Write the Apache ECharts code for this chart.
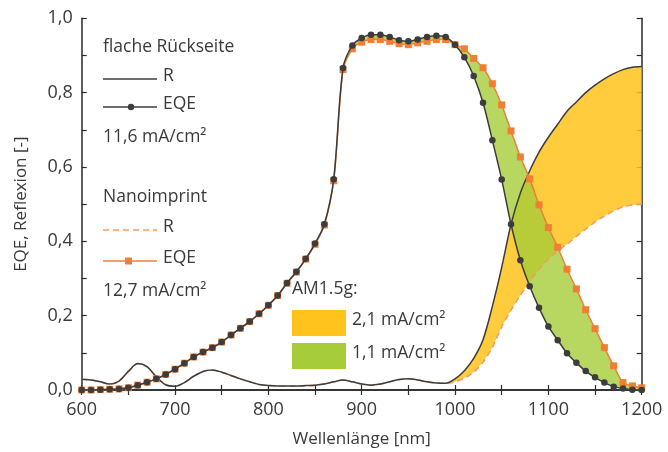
<!DOCTYPE html>
<html lang="de">
<head>
    <meta charset="UTF-8">
    <title>EQE und Reflexion</title>
    <script src="https://cdn.jsdelivr.net/npm/echarts@6/dist/echarts.min.js"></script>
    <style>
        body { margin: 0; background: #fff; }
    </style>
</head>
<body>
<div id="chart" style="width:668px;height:452px;"></div>
<script>
    // Wellenlaenge in nm, Schritt 10 nm
    var wl = [600, 610, 620, 630, 640, 650, 660, 670, 680, 690,
        700, 710, 720, 730, 740, 750, 760, 770, 780, 790,
        800, 810, 820, 830, 840, 850, 860, 870, 880, 890,
        900, 910, 920, 930, 940, 950, 960, 970, 980, 990,
        1000, 1010, 1020, 1030, 1040, 1050, 1060, 1070, 1080, 1090,
        1100, 1110, 1120, 1130, 1140, 1150, 1160, 1170, 1180, 1190, 1200];

    // flache Rueckseite
    var eqeFlat = [0.000, 0.000, 0.001, 0.002, 0.003, 0.006, 0.013, 0.021, 0.030, 0.042,
        0.056, 0.072, 0.089, 0.102, 0.114, 0.129, 0.148, 0.166, 0.184, 0.205,
        0.228, 0.254, 0.288, 0.318, 0.353, 0.394, 0.446, 0.567, 0.866, 0.927,
        0.947, 0.956, 0.956, 0.950, 0.941, 0.938, 0.943, 0.950, 0.953, 0.950,
        0.929, 0.895, 0.845, 0.773, 0.672, 0.566, 0.446, 0.349, 0.279, 0.221,
        0.171, 0.134, 0.099, 0.073, 0.051, 0.034, 0.020, 0.009, 0.004, 0.001, 0.000];
    var rFlat = [0.029, 0.027, 0.022, 0.016, 0.024, 0.050, 0.071, 0.063, 0.035, 0.014,
        0.010, 0.020, 0.037, 0.050, 0.054, 0.048, 0.039, 0.030, 0.022, 0.015,
        0.012, 0.011, 0.011, 0.011, 0.012, 0.013, 0.016, 0.022, 0.027, 0.022,
        0.016, 0.013, 0.016, 0.022, 0.028, 0.030, 0.027, 0.022, 0.019, 0.018,
        0.030, 0.052, 0.085, 0.135, 0.225, 0.330, 0.446, 0.530, 0.590, 0.640,
        0.680, 0.715, 0.750, 0.775, 0.800, 0.820, 0.837, 0.851, 0.862, 0.868, 0.870];

    // Nanoimprint
    var eqeNano = [0.000, 0.000, 0.001, 0.002, 0.003, 0.006, 0.013, 0.021, 0.030, 0.042,
        0.056, 0.072, 0.089, 0.102, 0.114, 0.129, 0.148, 0.166, 0.184, 0.205,
        0.228, 0.254, 0.287, 0.317, 0.352, 0.392, 0.444, 0.563, 0.862, 0.918,
        0.936, 0.943, 0.943, 0.938, 0.932, 0.929, 0.934, 0.938, 0.943, 0.943,
        0.929, 0.918, 0.892, 0.867, 0.824, 0.767, 0.697, 0.627, 0.568, 0.498,
        0.437, 0.384, 0.325, 0.272, 0.216, 0.165, 0.114, 0.065, 0.020, 0.011, 0.006];
    var rNano = [0.029, 0.027, 0.022, 0.016, 0.024, 0.050, 0.070, 0.062, 0.035, 0.014,
        0.010, 0.020, 0.037, 0.050, 0.054, 0.048, 0.039, 0.030, 0.022, 0.015,
        0.012, 0.011, 0.010, 0.010, 0.011, 0.013, 0.016, 0.022, 0.027, 0.022,
        0.016, 0.013, 0.016, 0.022, 0.028, 0.030, 0.027, 0.022, 0.019, 0.018,
        0.022, 0.032, 0.048, 0.075, 0.115, 0.170, 0.215, 0.255, 0.292, 0.325,
        0.352, 0.374, 0.392, 0.413, 0.433, 0.452, 0.468, 0.482, 0.493, 0.498, 0.500];

    var xTicks = [600, 700, 800, 900, 1000, 1100, 1200];
    var yTicks = ['0,0', '0,2', '0,4', '0,6', '0,8', '1,0'];

    var txt = '#3a3a3a';
    var dark = '#3c3c3c';
    var orange = '#f07f33';
    var orangeLight = '#f59b64';
    var yellow = '#ffc31c';
    var green = '#a6cd39';
    var font = '"Open Sans", "DejaVu Sans", sans-serif';
    var legendFont = '17.5px ' + font;

    function pairs(ys) {
        var out = [];
        for (var i = 0; i < wl.length; i++) out.push([wl[i], ys[i]]);
        return out;
    }

    // Flaeche zwischen zwei Kurven, Punkte ueber die Achsen umgerechnet
    function band(upper, lower, from, to, color, alpha) {
        var i0 = wl.indexOf(from), i1 = wl.indexOf(to);
        return function (params, api) {
            var pts = [];
            for (var i = i0; i <= i1; i++) pts.push(api.coord([wl[i], upper[i]]));
            for (var j = i1; j >= i0; j--) pts.push(api.coord([wl[j], lower[j]]));
            return { type: 'polygon', shape: { points: pts }, style: { fill: color, opacity: alpha } };
        };
    }

    var sm = 0.3;

    var ct = echarts.init(document.getElementById('chart'));
    var frameAxis = {
        axisLine: { show: true, lineStyle: { color: '#2a2a2a', width: 1.5 } },
        axisTick: { show: true, inside: true, length: 5, lineStyle: { color: '#2a2a2a', width: 1.2 } },
        minorTick: { show: true, splitNumber: 2, length: 5, lineStyle: { color: '#2a2a2a', width: 1.2 } },
        splitLine: { show: false },
        axisLabel: { show: false }
    };

    var option = {
        animation: false,
        textStyle: { fontFamily: font },
        grid: { left: 81.7, right: 26.3, top: 18.3, bottom: 62, outerBoundsMode: 'none' },
        xAxis: [
            echarts.util.merge({
                type: 'value', min: 600, max: 1200, interval: 100, position: 'bottom',
                name: 'Wellenlänge [nm]', nameLocation: 'middle', nameGap: 41, nameMoveOverlap: false,
                nameTextStyle: { color: txt, fontSize: 17, fontFamily: font },
                axisLabel: {
                    show: true, color: txt, fontSize: 18, margin: 11, fontFamily: font,
                    formatter: function (v) { return xTicks.indexOf(v) >= 0 ? String(v) : ''; }
                }
            }, frameAxis, false),
            echarts.util.merge({
                type: 'value', min: 600, max: 1200, interval: 100, position: 'top'
            }, frameAxis, false)
        ],
        yAxis: [
            echarts.util.merge({
                type: 'value', min: 0, max: 1, interval: 0.2, position: 'left',
                name: 'EQE, Reflexion [-]', nameLocation: 'middle', nameGap: 52, nameMoveOverlap: false,
                nameTextStyle: { color: txt, fontSize: 17, fontFamily: font },
                axisLabel: {
                    show: true, color: txt, fontSize: 18, margin: 9, fontFamily: font,
                    formatter: function (v) { return yTicks[Math.round(v * 5)]; }
                }
            }, frameAxis, false),
            echarts.util.merge({
                type: 'value', min: 0, max: 1, interval: 0.2, position: 'right'
            }, frameAxis, false)
        ],
        series: [
            // gelbe Flaeche zwischen den Reflexionskurven
            { type: 'custom', data: [[990, 0]], renderItem: band(rFlat, rNano, 990, 1200, yellow, 0.85),
              silent: true, z: 1 },
            // gruene Flaeche zwischen den EQE-Kurven
            { type: 'custom', data: [[860, 0]], renderItem: band(eqeNano, eqeFlat, 860, 1200, green, 0.8),
              silent: true, z: 2 },
            // Linien
            { name: 'R Nanoimprint', type: 'line', data: pairs(rNano), smooth: sm, symbol: 'none',
              lineStyle: { color: orangeLight, width: 1.6, type: [6, 4] }, z: 3 },
            { name: 'R flach', type: 'line', data: pairs(rFlat), smooth: sm, symbol: 'none',
              lineStyle: { color: dark, width: 1.5 }, z: 4 },
            { name: 'EQE Nanoimprint', type: 'line', data: pairs(eqeNano), smooth: sm,
              symbol: 'rect', symbolSize: 7, showAllSymbol: true,
              itemStyle: { color: orange }, lineStyle: { color: orange, width: 1.5 }, z: 5 },
            { name: 'EQE flach', type: 'line', data: pairs(eqeFlat), smooth: sm,
              symbol: 'circle', symbolSize: 6.5, showAllSymbol: true,
              itemStyle: { color: dark }, lineStyle: { color: dark, width: 1.5 }, z: 6 }
        ],
        graphic: [
            { type: 'text', left: 103, top: 38, style: { text: 'flache Rückseite', fill: txt, font: legendFont } },
            { type: 'line', shape: { x1: 103, y1: 79, x2: 157, y2: 79 }, style: { stroke: dark, lineWidth: 1.5 } },
            { type: 'text', left: 163, top: 67, style: { text: 'R', fill: txt, font: legendFont } },
            { type: 'line', shape: { x1: 103, y1: 107, x2: 157, y2: 107 }, style: { stroke: dark, lineWidth: 1.5 } },
            { type: 'circle', shape: { cx: 131, cy: 107, r: 3.2 }, style: { fill: dark } },
            { type: 'text', left: 163, top: 95, style: { text: 'EQE', fill: txt, font: legendFont } },
            { type: 'text', left: 103, top: 128, style: { text: '11,6 mA/cm²', fill: txt, font: legendFont } },

            { type: 'text', left: 103, top: 188, style: { text: 'Nanoimprint', fill: txt, font: legendFont } },
            { type: 'line', shape: { x1: 103, y1: 230, x2: 157, y2: 230 }, style: { stroke: orangeLight, lineWidth: 1.6, lineDash: [6, 4] } },
            { type: 'text', left: 163, top: 218, style: { text: 'R', fill: txt, font: legendFont } },
            { type: 'line', shape: { x1: 103, y1: 261, x2: 157, y2: 261 }, style: { stroke: orange, lineWidth: 1.5 } },
            { type: 'rect', shape: { x: 125, y: 257.5, width: 7, height: 7 }, style: { fill: orange } },
            { type: 'text', left: 163, top: 249, style: { text: 'EQE', fill: txt, font: legendFont } },
            { type: 'text', left: 103, top: 282, style: { text: '12,7 mA/cm²', fill: txt, font: legendFont } },

            { type: 'text', left: 292, top: 280, style: { text: 'AM1.5g:', fill: txt, font: legendFont } },
            { type: 'rect', shape: { x: 292, y: 310, width: 54, height: 26 }, style: { fill: yellow } },
            { type: 'text', left: 352, top: 311, style: { text: '2,1 mA/cm²', fill: txt, font: legendFont } },
            { type: 'rect', shape: { x: 292, y: 343, width: 54, height: 26 }, style: { fill: green } },
            { type: 'text', left: 352, top: 344, style: { text: '1,1 mA/cm²', fill: txt, font: legendFont } }
        ]
    };
    ct.setOption(option);
</script>
</body>
</html>
